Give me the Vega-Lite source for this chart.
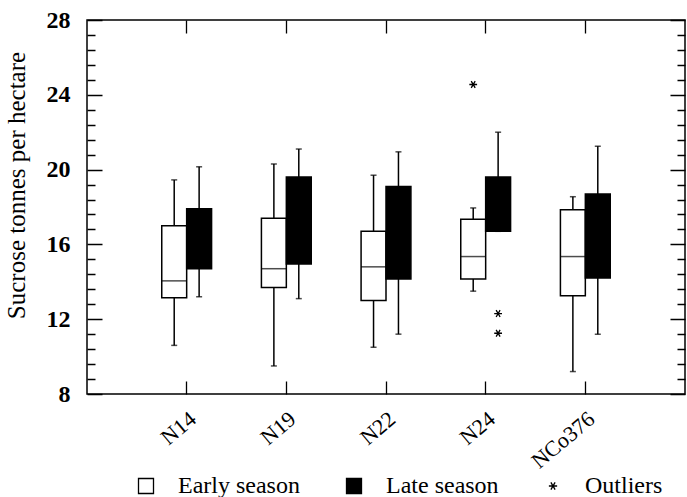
{
  "$schema": "https://vega.github.io/schema/vega-lite/v6.json",
  "width": 598,
  "height": 374,
  "autosize": "none",
  "padding": {"left": 87, "top": 20, "right": 2, "bottom": 103},
  "background": "white",
  "config": {
    "view": {"stroke": "black", "strokeWidth": 1.5},
    "font": "Liberation Serif",
    "axis": {
      "labelColor": "black",
      "labelFont": "Liberation Serif",
      "labelFontSize": 22,
      "titleFont": "Liberation Serif",
      "titleFontWeight": "normal",
      "titleColor": "black"
    },
    "legend": {
      "labelFont": "Liberation Serif",
      "labelFontSize": 24,
      "labelColor": "black",
      "symbolStrokeColor": "black",
      "symbolStrokeWidth": 1.3,
      "labelLimit": 0
    }
  },
  "datasets": {
    "boxes": [
      {"cultivar": "N14", "season": "Early", "kind": "Early season", "lower": 10.6, "q1": 13.15, "median": 14.05, "q3": 17.0, "upper": 19.45},
      {"cultivar": "N14", "season": "Late", "kind": "Late season", "lower": 13.2, "q1": 14.7, "median": null, "q3": 17.9, "upper": 20.15},
      {"cultivar": "N19", "season": "Early", "kind": "Early season", "lower": 9.5, "q1": 13.7, "median": 14.7, "q3": 17.4, "upper": 20.3},
      {"cultivar": "N19", "season": "Late", "kind": "Late season", "lower": 13.1, "q1": 14.95, "median": null, "q3": 19.6, "upper": 21.1},
      {"cultivar": "N22", "season": "Early", "kind": "Early season", "lower": 10.5, "q1": 13.0, "median": 14.8, "q3": 16.7, "upper": 19.7},
      {"cultivar": "N22", "season": "Late", "kind": "Late season", "lower": 11.2, "q1": 14.15, "median": null, "q3": 19.1, "upper": 20.95},
      {"cultivar": "N24", "season": "Early", "kind": "Early season", "lower": 13.5, "q1": 14.15, "median": 15.35, "q3": 17.35, "upper": 17.95},
      {"cultivar": "N24", "season": "Late", "kind": "Late season", "lower": 16.7, "q1": 16.7, "median": null, "q3": 19.6, "upper": 22.0},
      {"cultivar": "NCo376", "season": "Early", "kind": "Early season", "lower": 9.2, "q1": 13.25, "median": 15.35, "q3": 17.85, "upper": 18.55},
      {"cultivar": "NCo376", "season": "Late", "kind": "Late season", "lower": 11.2, "q1": 14.2, "median": null, "q3": 18.7, "upper": 21.25}
    ],
    "outliers": [
      {"cultivar": "N24", "season": "Early", "kind": "Outliers", "value": 24.55},
      {"cultivar": "N24", "season": "Late", "kind": "Outliers", "value": 12.3},
      {"cultivar": "N24", "season": "Late", "kind": "Outliers", "value": 11.25}
    ]
  },
  "layer": [
    {
      "data": {"name": "boxes"},
      "mark": {"type": "rule", "color": "black", "strokeWidth": 1.5},
      "encoding": {
        "x": {
          "field": "cultivar", "type": "nominal",
          "sort": ["N14", "N19", "N22", "N24", "NCo376"],
          "scale": {"paddingInner": 0, "paddingOuter": 0.5},
          "axis": {
            "orient": "bottom", "title": null, "labelAngle": -40, "domain": false, "ticks": false,
            "grid": true, "gridColor": "black", "gridOpacity": 1, "gridWidth": 1.3, "gridDash": [13, 348],
            "labelPadding": 14
          }
        },
        "xOffset": {"field": "season", "type": "nominal", "scale": {"domain": ["Early", "Late"], "paddingInner": 0, "paddingOuter": 1}},
        "y": {
          "field": "lower", "type": "quantitative",
          "scale": {"domain": [8, 28], "nice": false, "zero": false},
          "axis": {
            "orient": "left",
            "values": [8, 12, 16, 20, 24, 28],
            "domain": false, "ticks": false,
            "grid": true, "gridColor": "black", "gridOpacity": 1, "gridWidth": 1.3, "gridDash": [15, 568],
            "labelPadding": 17,
            "labelFontSize": 24,
            "labelFontWeight": "bold",
            "title": "Sucrose tonnes per hectare",
            "titleFontSize": 25,
            "titleX": -58,
            "titleY": 165
          }
        },
        "y2": {"field": "upper"}
      }
    },
    {
      "data": {"name": "boxes"},
      "mark": {"type": "tick", "color": "black", "size": 6, "thickness": 1.5},
      "encoding": {
        "x": {"field": "cultivar", "type": "nominal", "sort": ["N14", "N19", "N22", "N24", "NCo376"], "axis": null},
        "xOffset": {"field": "season", "type": "nominal"},
        "y": {
          "field": "upper", "type": "quantitative",
          "axis": {
            "orient": "left", "title": null, "labels": false, "domain": false, "ticks": false,
            "grid": true, "gridColor": "black", "gridOpacity": 1, "gridWidth": 1.3, "gridDash": [8, 582],
            "values": [8.8, 9.6, 10.4, 11.2, 12.8, 13.6, 14.4, 15.2, 16.8, 17.6, 18.4, 19.2, 20.8, 21.6, 22.4, 23.2, 24.8, 25.6, 26.4, 27.2]
          }
        }
      }
    },
    {
      "data": {"name": "boxes"},
      "mark": {"type": "tick", "color": "black", "size": 6, "thickness": 1.5},
      "encoding": {
        "x": {"field": "cultivar", "type": "nominal", "sort": ["N14", "N19", "N22", "N24", "NCo376"], "axis": null},
        "xOffset": {"field": "season", "type": "nominal"},
        "y": {"field": "lower", "type": "quantitative", "axis": null}
      }
    },
    {
      "data": {"name": "boxes"},
      "mark": {"type": "bar", "stroke": "black", "strokeWidth": 1.5},
      "encoding": {
        "x": {"field": "cultivar", "type": "nominal", "sort": ["N14", "N19", "N22", "N24", "NCo376"], "axis": null},
        "xOffset": {"field": "season", "type": "nominal"},
        "y": {"field": "q1", "type": "quantitative", "axis": null},
        "y2": {"field": "q3"},
        "fill": {
          "field": "kind", "type": "nominal",
          "scale": {"domain": ["Early season", "Late season", "Outliers"], "range": ["white", "black", "black"]},
          "legend": {"title": null, "orient": "none", "direction": "horizontal", "legendX": 47, "legendY": 454, "symbolSize": 225, "columnPadding": 42, "labelOffset": 20}
        }
      }
    },
    {
      "data": {"name": "boxes"},
      "transform": [{"filter": "datum.median != null"}],
      "mark": {"type": "tick", "color": "black", "size": 25, "thickness": 1.5},
      "encoding": {
        "x": {"field": "cultivar", "type": "nominal", "sort": ["N14", "N19", "N22", "N24", "NCo376"], "axis": null},
        "xOffset": {"field": "season", "type": "nominal"},
        "y": {"field": "median", "type": "quantitative", "axis": null}
      }
    },
    {
      "data": {"name": "outliers"},
      "mark": {"type": "point", "filled": false, "color": "black", "strokeWidth": 1.3, "size": 200, "opacity": 1},
      "encoding": {
        "x": {"field": "cultivar", "type": "nominal", "sort": ["N14", "N19", "N22", "N24", "NCo376"], "axis": null},
        "xOffset": {"field": "season", "type": "nominal"},
        "y": {"field": "value", "type": "quantitative", "axis": null},
        "shape": {
          "field": "kind", "type": "nominal",
          "scale": {"domain": ["Early season", "Late season", "Outliers"], "range": ["square", "square", "M-0.55,0L0.55,0M-0.28,-0.48L0.28,0.48M-0.28,0.48L0.28,-0.48"]},
          "legend": {"title": null, "orient": "none", "direction": "horizontal", "legendX": 47, "legendY": 454, "symbolSize": 225, "columnPadding": 42, "labelOffset": 20}
        }
      }
    }
  ],
  "resolve": {"axis": {"x": "independent", "y": "independent"}}
}
